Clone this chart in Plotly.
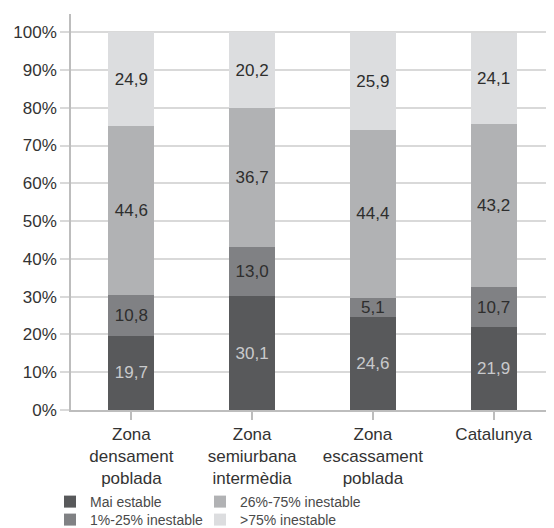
import plotly.graph_objects as go

categories = ["Zona<br>densament<br>poblada", "Zona<br>semiurbana<br>intermèdia",
              "Zona<br>escassament<br>poblada", "Catalunya"]
series_names = ["Mai estable", "1%-25% inestable", "26%-75% inestable", ">75% inestable"]
mai_estable = [19.7, 30.1, 24.6, 21.9]
inest_1_25 = [10.8, 13.0, 5.1, 10.7]
inest_26_75 = [44.6, 36.7, 44.4, 43.2]
inest_75 = [24.9, 20.2, 25.9, 24.1]
y_ticks = [0, 10, 20, 30, 40, 50, 60, 70, 80, 90, 100]
y_tick_labels = [f"{v}%" for v in y_ticks]

series_values = [mai_estable, inest_1_25, inest_26_75, inest_75]
colors = ["#58595b", "#808184", "#b1b2b4", "#dcdddf"]
text_colors = ["#c9cacc", "#2e2e2e", "#2e2e2e", "#2e2e2e"]
legends = ["legend", "legend2", "legend3", "legend4"]

font_family = "Liberation Sans"

# the page body adds an 8px offset; the figure is sized so it ends at the window edge
W, H = 546, 520

fig = go.Figure()
for name, vals, col, tcol, lg in zip(series_names, series_values, colors, text_colors, legends):
    fig.add_trace(go.Bar(
        x=categories, y=vals, name=name,
        marker=dict(color=col, line=dict(width=0)),
        text=[f"{v:.1f}".replace(".", ",") for v in vals],
        textposition="inside", insidetextanchor="middle",
        textfont=dict(color=tcol, size=17, family=font_family),
        legend=lg, showlegend=True, hoverinfo="skip",
    ))

leg_common = dict(
    orientation="h", xref="container", yref="container",
    xanchor="left", yanchor="middle",
    font=dict(size=14, color="#4a4a4a", family=font_family),
    itemwidth=30, bgcolor="rgba(0,0,0,0)", borderwidth=0,
)
col1_x, col2_x = 42 / W, 192 / W
row1_y, row2_y = 1 - 494 / H, 1 - 512 / H

fig.update_layout(
    showlegend=True,
    barmode="stack",
    bargap=0.62,
    width=W, height=H,
    margin=dict(l=63, r=0, t=6, b=118, autoexpand=False),
    plot_bgcolor="white", paper_bgcolor="white",
    font=dict(family=font_family, color="#333333", size=17),
    uniformtext=dict(mode="show", minsize=17),
    xaxis=dict(
        showline=True, linecolor="#bdbdbd", linewidth=1.5,
        ticks="outside", ticklen=8, tickcolor="#bdbdbd", tickwidth=1.5,
        tickfont=dict(size=17, color="#333333"),
        automargin=False,
    ),
    yaxis=dict(
        range=[0, 104.8],
        tickvals=y_ticks, ticktext=y_tick_labels,
        showline=True, linecolor="#bdbdbd", linewidth=1.5,
        showgrid=True, gridcolor="#d9d9d9", gridwidth=1.5,
        ticks="outside", ticklen=9, tickcolor="#d9d9d9", tickwidth=1.5,
        tickfont=dict(size=17, color="#333333"),
        zeroline=False, automargin=False,
    ),
    legend=dict(leg_common, x=col1_x, y=row1_y),
    legend2=dict(leg_common, x=col1_x, y=row2_y),
    legend3=dict(leg_common, x=col2_x, y=row1_y),
    legend4=dict(leg_common, x=col2_x, y=row2_y),
)

fig.write_html("out.html")
